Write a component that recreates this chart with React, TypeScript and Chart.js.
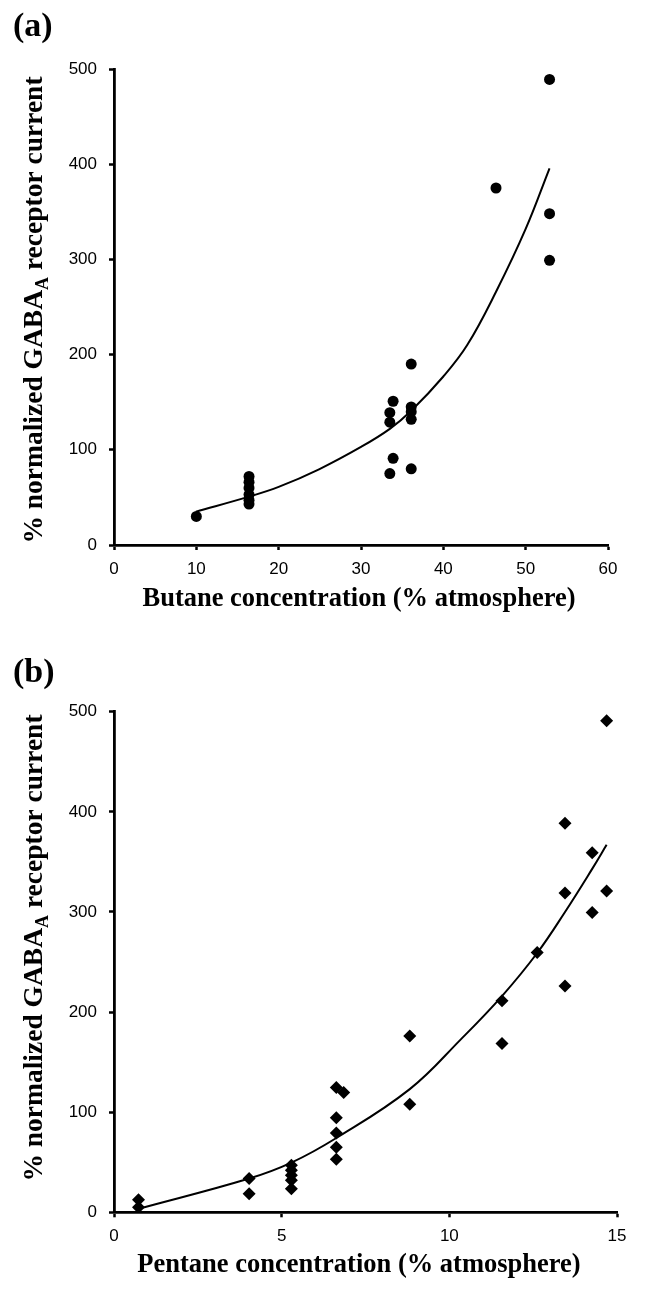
import React, { useEffect, useRef } from "react";
import { Chart, registerables } from "chart.js";

Chart.register(...registerables);

// ---- Panel (a): butane ----
const butaneX = [10, 16.4, 16.4, 16.4, 16.4, 16.4, 16.4, 33.5, 33.9, 33.5, 33.5, 33.9, 36.1, 36.1, 36.1, 36.1, 36.1, 46.4, 52.9, 52.9, 52.9];
const butaneY = [30, 72, 66, 60, 53, 47, 43, 75, 91, 129, 139, 151, 190, 145, 140, 132, 80, 375, 489, 348, 299];
const butaneFitX = [9.95, 16.4, 20, 24.9, 30, 33.5, 36.1, 40, 42.9, 46.4, 50, 52.9];
const butaneFitY = [35, 50.8, 61, 79.5, 103, 122, 141, 177, 210, 266, 332, 395.7];
const butaneTicksX = { min: 0, max: 60, step: 10 };

// ---- Panel (b): pentane ----
const pentaneX = [0.73, 0.73, 4.03, 4.03, 5.29, 5.29, 5.29, 5.29, 5.29, 6.63, 6.63, 6.63, 6.63, 6.63, 6.85, 8.82, 8.82, 11.57, 11.57, 12.62, 13.45, 13.45, 13.45, 14.26, 14.26, 14.69, 14.69];
const pentaneY = [12.5, 5, 33.7, 18.5, 47, 42, 37, 32, 23.6, 124.7, 94.4, 79.2, 65, 52.9, 119.7, 176, 108, 211.4, 168.6, 259.6, 388.5, 319, 226, 359, 299.5, 491, 321];
const pentaneFitX = [0.73, 4.03, 5.29, 6.63, 8.82, 10.35, 11.57, 12.62, 13.45, 14.26, 14.69];
const pentaneFitY = [3.4, 33.7, 49.6, 74.2, 123, 173, 216, 259, 300, 343, 367];
const pentaneTicksX = { min: 0, max: 15, step: 5 };

const yTicks = { min: 0, max: 500, step: 100 };

const yTitleMain1 = "% normalized GABA";
const yTitleSub = "A";
const yTitleMain2 = " receptor current";

const toPts = (xs: number[], ys: number[]) => xs.map((x, i) => ({ x, y: ys[i] }));

interface PanelCfg {
  label: string;
  labelBaseline: number;
  xTitle: string;
  xTitleBaseline: number;
  yTitleCenter: number;
  xs: number[];
  ys: number[];
  fx: number[];
  fy: number[];
  xt: { min: number; max: number; step: number };
  pointStyle: string;
  pointRadius: number;
  padTop: number;
  padRight: number;
  xAxisHeight: number;
}

function makeTextPlugin(cfg: PanelCfg) {
  return {
    id: "panelTexts",
    afterDraw(chart: any) {
      const ctx = chart.ctx as CanvasRenderingContext2D;
      ctx.save();
      ctx.fillStyle = "#000";
      ctx.textBaseline = "alphabetic";
      // panel label
      ctx.font = 'bold 34px "Liberation Serif"';
      ctx.textAlign = "left";
      ctx.fillText(cfg.label, 13, cfg.labelBaseline);
      // x title
      ctx.font = 'bold 26.5px "Liberation Serif"';
      ctx.textAlign = "center";
      ctx.fillText(cfg.xTitle, 359, cfg.xTitleBaseline);
      // y title (rotated, with subscript)
      ctx.textAlign = "left";
      const big = 'bold 27.5px "Liberation Serif"';
      const small = 'bold 18px "Liberation Serif"';
      ctx.font = big;
      const w1 = ctx.measureText(yTitleMain1).width;
      const w3 = ctx.measureText(yTitleMain2).width;
      ctx.font = small;
      const ws = ctx.measureText(yTitleSub).width;
      const total = w1 + ws + w3;
      ctx.translate(42, cfg.yTitleCenter);
      ctx.rotate(-Math.PI / 2);
      let x = -total / 2;
      ctx.font = big;
      ctx.fillText(yTitleMain1, x, 0);
      x += w1;
      ctx.font = small;
      ctx.fillText(yTitleSub, x, 6);
      x += ws;
      ctx.font = big;
      ctx.fillText(yTitleMain2, x, 0);
      ctx.restore();
    },
  };
}

function Panel({ cfg }: { cfg: PanelCfg }) {
  const ref = useRef<HTMLCanvasElement | null>(null);
  useEffect(() => {
    if (!ref.current) return;
    const tickFont = { family: '"Liberation Sans"', size: 17 };
    const chart = new Chart(ref.current, {
      type: "scatter",
      data: {
        datasets: [
          {
            type: "line",
            data: toPts(cfg.fx, cfg.fy),
            borderColor: "#000",
            borderWidth: 2,
            pointRadius: 0,
            fill: false,
            tension: 0.4,
          } as any,
          {
            type: "scatter",
            data: toPts(cfg.xs, cfg.ys),
            pointStyle: cfg.pointStyle,
            pointRadius: cfg.pointRadius,
            pointBackgroundColor: "#000",
            pointBorderColor: "#000",
            pointBorderWidth: 0,
          } as any,
        ],
      },
      options: {
        animation: false,
        responsive: false,
        layout: { padding: { top: cfg.padTop, right: cfg.padRight, left: 0, bottom: 0 } },
        plugins: { legend: { display: false }, tooltip: { enabled: false } },
        scales: {
          x: {
            type: "linear",
            min: cfg.xt.min,
            max: cfg.xt.max,
            ticks: { stepSize: cfg.xt.step, color: "#000", font: tickFont, padding: 9, maxRotation: 0 },
            grid: { display: true, drawOnChartArea: false, drawTicks: true, tickLength: 5, tickWidth: 2.5, tickColor: "#000" },
            border: { display: true, color: "#000", width: 2.8 },
            afterFit: (s: any) => {
              s.height = cfg.xAxisHeight;
            },
          },
          y: {
            type: "linear",
            min: yTicks.min,
            max: yTicks.max,
            ticks: { stepSize: yTicks.step, color: "#000", font: tickFont, padding: 12 },
            grid: { display: true, drawOnChartArea: false, drawTicks: true, tickLength: 5, tickWidth: 2.5, tickColor: "#000" },
            border: { display: true, color: "#000", width: 2.8 },
            afterFit: (s: any) => {
              s.width = 114;
            },
          },
        },
      } as any,
      plugins: [makeTextPlugin(cfg)],
    });
    return () => chart.destroy();
  }, [cfg]);
  return <canvas ref={ref} width={648} height={645} style={{ display: "block", width: 648, height: 645 }} />;
}

const panelA: PanelCfg = {
  label: "(a)",
  labelBaseline: 36,
  xTitle: "Butane concentration (% atmosphere)",
  xTitleBaseline: 606,
  yTitleCenter: 310,
  xs: butaneX,
  ys: butaneY,
  fx: butaneFitX,
  fy: butaneFitY,
  xt: butaneTicksX,
  pointStyle: "circle",
  pointRadius: 5.5,
  padTop: 69,
  padRight: 40,
  xAxisHeight: 100,
};

const panelB: PanelCfg = {
  label: "(b)",
  labelBaseline: 37,
  xTitle: "Pentane concentration (% atmosphere)",
  xTitleBaseline: 627,
  yTitleCenter: 303,
  xs: pentaneX,
  ys: pentaneY,
  fx: pentaneFitX,
  fy: pentaneFitY,
  xt: pentaneTicksX,
  pointStyle: "rectRot",
  pointRadius: 6.5,
  padTop: 66.7,
  padRight: 31,
  xAxisHeight: 77.7,
};

export default function App() {
  return (
    <div style={{ position: "absolute", left: 0, top: 0, width: 648, height: 1290, background: "#fff" }}>
      <Panel cfg={panelA} />
      <Panel cfg={panelB} />
    </div>
  );
}
